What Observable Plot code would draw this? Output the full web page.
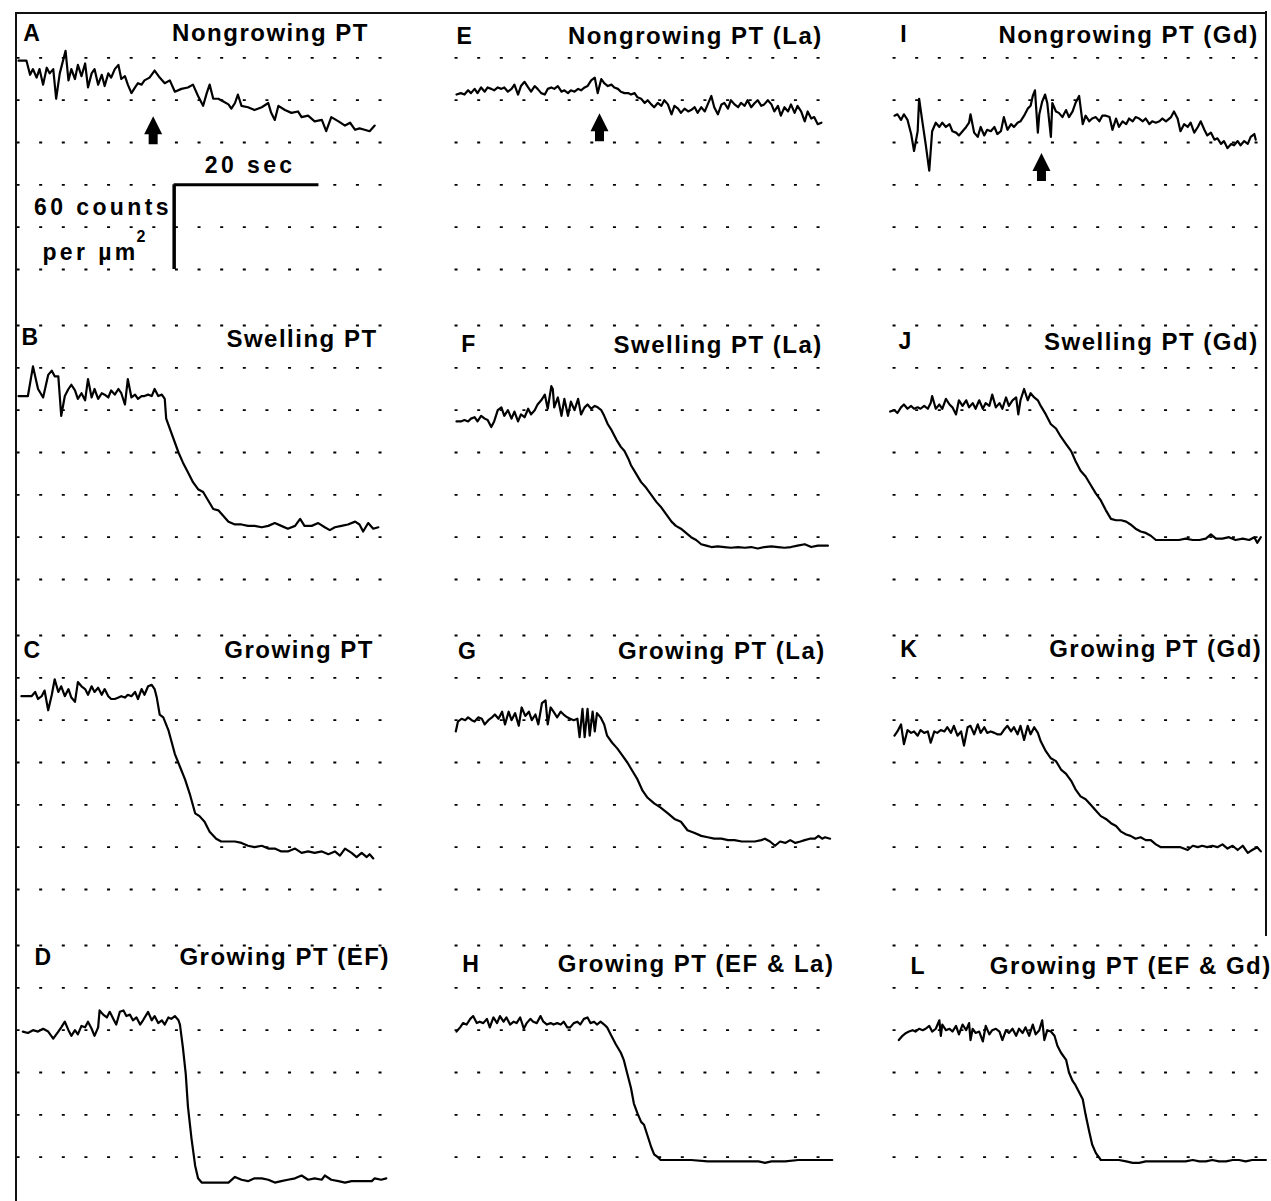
<!DOCTYPE html>
<html><head><meta charset="utf-8">
<script src="https://cdn.jsdelivr.net/npm/d3@7"></script>
<script src="https://cdn.jsdelivr.net/npm/@observablehq/plot@0.6"></script>
<style>
html,body{margin:0;padding:0;background:#fff;overflow:hidden;}
#fig{position:relative;width:1271px;height:1201px;background:#fff;}
#fig svg{position:absolute;left:0;top:0;}
.border{position:absolute;background:#111;}
</style></head>
<body><div id="fig"></div>
<script>
// ---- Traces: [time (s), counts per µm²] ----
const traceA = [[0,148],[1.1,148],[1.6,138],[2.0,142],[2.5,136],[2.9,142],[3.4,131],[3.9,143],[4.3,139],[4.8,142],[5.2,121],[5.7,139],[6.5,155],[6.9,134],[7.3,142],[7.8,135],[8.2,145],[8.7,137],[9.2,146],[9.6,129],[10.1,139],[10.5,142],[11.0,131],[11.5,138],[11.9,130],[12.4,139],[12.8,136],[13.3,142],[13.8,145],[14.2,135],[14.7,137],[15.1,131],[15.6,125],[16.1,129],[16.5,132],[17.0,131],[17.4,134],[18.1,136],[18.8,141],[19.5,136],[20.2,132],[20.9,134],[21.6,126],[22.5,128],[23.4,129],[24.1,131],[24.8,123],[25.5,116],[26.0,125],[26.4,131],[26.9,121],[27.6,121],[28.3,119],[29.0,117],[29.4,114],[29.9,118],[30.3,124],[30.8,116],[31.7,115],[32.6,113],[33.6,115],[34.5,118],[34.9,111],[35.4,106],[35.9,116],[36.8,113],[37.7,111],[38.6,112],[39.1,108],[40.0,109],[40.9,105],[41.9,106],[42.5,98],[43.2,108],[44.2,105],[45.1,102],[45.8,104],[46.5,99],[47.1,100],[47.8,99],[48.5,98],[49.2,102]];
const traceB = [[0,130],[1.3,130],[2.0,151],[2.7,135],[3.4,129],[4.1,145],[4.6,148],[5.0,144],[5.5,144],[5.9,116],[6.4,130],[6.9,135],[7.3,138],[7.8,134],[8.2,128],[8.7,132],[9.2,127],[9.6,142],[10.1,129],[10.5,135],[11.0,128],[11.5,132],[11.9,131],[12.4,129],[12.8,134],[13.3,131],[13.8,135],[14.2,132],[14.7,124],[15.1,142],[15.6,129],[16.1,131],[16.5,128],[17.0,130],[17.4,130],[17.9,131],[18.4,130],[18.8,135],[19.3,130],[19.8,131],[20.2,128],[20.4,114],[21.1,104],[22.1,90],[22.7,83],[23.4,76],[24.1,69],[24.8,64],[25.5,62],[26.2,56],[26.9,50],[27.6,49],[28.3,45],[29.0,41],[29.9,39],[30.8,39],[31.7,38],[32.6,38],[33.6,37],[34.5,38],[35.4,40],[36.3,38],[37.2,36],[38.2,38],[38.9,43],[39.5,38],[40.5,38],[41.4,40],[42.3,37],[43.0,35],[43.7,37],[44.6,38],[45.5,39],[46.5,41],[47.1,39],[47.6,34],[48.3,40],[49.0,36],[49.7,37]];
const traceC = [[0.4,137],[1.8,137],[2.3,140],[2.7,135],[3.2,137],[3.6,141],[4.1,127],[4.6,138],[5.0,149],[5.5,140],[5.9,144],[6.4,137],[6.9,142],[7.3,136],[7.8,133],[8.2,147],[8.7,144],[9.2,142],[9.6,138],[10.1,144],[10.5,140],[11.0,143],[11.5,138],[11.9,142],[12.4,137],[12.8,135],[13.3,135],[13.8,136],[14.2,137],[14.7,136],[15.1,138],[15.6,137],[16.1,140],[16.5,135],[17.0,142],[17.4,138],[17.9,144],[18.4,145],[18.8,142],[19.1,136],[19.5,124],[20.0,122],[20.7,113],[21.6,96],[22.3,87],[23.0,78],[23.7,67],[24.4,54],[25.0,52],[25.7,48],[26.4,41],[27.3,36],[28.0,34],[29.0,34],[29.9,34],[30.8,33],[31.7,31],[32.6,30],[33.6,31],[34.5,29],[35.4,29],[36.3,27],[37.2,27],[38.2,29],[39.1,26],[40.0,27],[40.9,26],[41.9,27],[42.8,25],[43.7,27],[44.4,24],[45.1,29],[46.0,26],[46.7,23],[47.4,26],[48.1,23],[48.5,25],[49.0,22]];
const traceD = [[0.6,119],[1.3,118],[2.0,120],[2.7,119],[3.4,121],[4.1,119],[4.8,114],[5.5,119],[5.9,122],[6.4,126],[6.9,120],[7.3,116],[7.8,120],[8.2,117],[8.7,123],[9.2,122],[9.6,126],[10.1,121],[10.5,116],[11.0,122],[11.2,134],[11.7,131],[12.2,129],[12.6,133],[13.1,128],[13.5,124],[14.0,133],[14.5,134],[14.9,130],[15.4,131],[15.8,127],[16.3,129],[16.8,124],[17.2,127],[17.9,133],[18.4,127],[18.8,130],[19.3,125],[19.8,127],[20.2,124],[20.7,129],[21.1,128],[21.6,130],[22.1,127],[22.3,124],[22.7,108],[23.1,89],[23.4,66],[23.9,43],[24.4,24],[24.8,15],[25.3,12],[26.2,12],[27.6,12],[29.0,12],[29.9,16],[30.8,14],[31.7,13],[32.6,15],[33.6,15],[34.5,14],[35.4,12],[36.3,13],[37.2,14],[38.2,15],[39.1,17],[40.0,14],[40.9,15],[41.9,14],[42.3,17],[43.2,14],[44.2,13],[45.1,12],[46.0,13],[46.9,13],[47.8,13],[48.8,13],[49.2,15],[50.1,14],[50.8,15]];
const traceE = [[0,124],[0.6,125],[1.1,124],[1.6,127],[2.0,125],[2.5,128],[2.9,125],[3.4,129],[3.9,126],[4.3,129],[4.8,128],[5.2,127],[5.7,129],[6.2,128],[6.6,129],[7.1,126],[7.6,128],[8.0,131],[8.5,124],[8.9,130],[9.4,133],[9.9,129],[10.3,126],[10.8,130],[11.2,128],[11.7,125],[12.2,124],[12.6,128],[13.1,129],[13.5,128],[14.0,130],[14.5,126],[14.9,127],[15.4,125],[15.8,127],[16.3,126],[16.8,128],[17.2,127],[17.7,129],[18.1,130],[18.6,134],[19.1,136],[19.5,125],[20.0,135],[20.4,132],[20.9,130],[21.4,131],[21.8,129],[22.3,128],[22.7,126],[23.2,125],[23.7,125],[24.1,124],[24.6,125],[25.0,122],[25.5,121],[26.0,118],[26.4,120],[26.9,117],[27.3,115],[27.8,118],[28.3,116],[28.7,120],[29.2,117],[29.7,110],[30.1,116],[30.6,114],[31.0,111],[31.5,114],[32.0,112],[32.4,113],[32.9,115],[33.3,111],[33.8,115],[34.3,112],[34.7,117],[35.2,123],[35.6,115],[36.1,110],[36.6,117],[37.0,118],[37.5,114],[37.9,120],[38.4,117],[38.9,115],[39.3,118],[39.8,116],[40.2,120],[40.7,115],[41.2,118],[41.6,120],[42.1,116],[42.5,117],[43.0,120],[43.5,117],[43.9,112],[44.4,116],[44.8,109],[45.3,115],[45.8,112],[46.2,117],[46.7,111],[47.1,116],[47.6,112],[48.1,105],[48.5,112],[49.0,107],[49.4,108],[49.9,103],[50.4,104]];
const traceF = [[0,112],[0.6,112],[1.1,113],[1.6,112],[2.0,114],[2.5,115],[2.9,112],[3.4,116],[3.9,114],[4.3,113],[4.8,108],[5.2,112],[5.7,120],[6.2,122],[6.6,116],[7.1,120],[7.6,114],[8.0,119],[8.5,112],[8.9,117],[9.4,115],[9.9,121],[10.3,117],[10.8,120],[11.2,124],[11.7,127],[12.2,131],[12.6,121],[13.1,137],[13.3,135],[13.5,122],[14.0,129],[14.5,116],[14.9,128],[15.4,116],[15.8,126],[16.3,120],[16.8,128],[17.2,117],[17.7,122],[18.1,124],[18.6,121],[19.1,123],[19.5,122],[20.0,120],[20.4,116],[20.9,110],[21.4,106],[22.1,99],[22.7,94],[23.2,91],[23.7,86],[24.1,81],[24.8,75],[25.5,69],[26.2,65],[26.9,60],[27.6,55],[28.3,51],[29.0,46],[29.7,41],[30.3,38],[31.0,36],[31.7,33],[32.4,30],[33.1,28],[33.8,25],[34.5,24],[35.2,23],[36.1,23.5],[37.0,23],[37.9,22.5],[38.9,23],[39.8,22.5],[40.7,23],[41.6,22],[42.5,23],[43.5,23.5],[44.4,23],[45.3,22.5],[46.2,23],[47.1,24],[48.1,25],[49.0,23],[49.9,24],[51.3,24]];
const traceG = [[-0.1,112],[0.2,119],[0.7,121],[1.2,120],[1.6,122],[2.1,120],[2.5,119],[3.0,122],[3.5,121],[3.9,117],[4.4,120],[4.9,122],[5.3,124],[5.8,121],[6.3,126],[6.7,117],[7.2,126],[7.6,120],[8.1,125],[8.6,116],[9.0,129],[9.5,123],[10.0,126],[10.4,120],[10.9,124],[11.3,117],[11.8,132],[12.3,134],[12.6,117],[13.0,129],[13.4,126],[13.9,122],[14.4,126],[14.8,124],[15.3,122],[15.7,121],[16.2,120],[16.7,121],[17.0,108],[17.4,128],[17.7,108],[18.1,128],[18.4,109],[18.8,126],[19.1,112],[19.4,125],[19.9,122],[20.4,117],[20.8,109],[21.5,104],[22.2,100],[22.9,95],[23.6,90],[24.3,84],[25.0,78],[25.7,70],[26.4,65],[27.3,61],[28.2,58],[29.2,54],[30.1,50],[31.0,48],[31.9,42],[32.9,40],[33.8,38],[34.7,37],[35.6,36],[36.6,36],[37.5,35],[38.4,35],[39.4,34],[40.3,34],[41.2,34],[42.1,35],[42.6,36],[43.3,34],[44.0,31],[44.7,34],[45.4,33],[46.1,35],[46.8,33],[47.5,34],[48.1,35],[48.8,36],[49.5,36],[50.0,38],[50.5,36],[50.9,37],[51.6,36]];
const traceH = [[0,119],[0.5,122],[0.9,125],[1.4,124],[1.9,128],[2.3,130],[2.8,125],[3.2,126],[3.7,125],[4.2,128],[4.6,122],[5.1,129],[5.6,125],[6.0,130],[6.5,126],[6.9,129],[7.4,124],[7.9,126],[8.3,125],[8.8,129],[9.3,121],[9.7,125],[10.2,128],[10.6,126],[11.1,125],[11.6,130],[12.0,126],[12.5,124],[13.0,125],[13.4,124],[13.9,125],[14.4,124],[14.8,126],[15.3,122],[15.7,122],[16.2,125],[16.7,126],[17.1,124],[17.6,128],[18.1,129],[18.5,125],[19.0,126],[19.4,124],[19.9,126],[20.4,124],[20.8,122],[21.3,117],[22.0,110],[22.7,104],[23.1,99],[23.6,89],[24.1,79],[24.5,68],[25.0,61],[25.5,55],[25.9,53],[26.4,45],[26.9,37],[27.3,32],[27.8,30],[28.2,28],[29.2,28],[30.6,28],[32.4,28],[34.7,27],[37.0,27],[39.4,27],[41.7,27],[42.6,26],[43.5,27],[45.4,27],[47.2,28],[49.1,28],[50.9,28],[51.9,28]];
const traceI = [[0,109],[0.4,110],[0.9,106],[1.3,110],[1.8,106],[2.3,96],[2.7,84],[3.2,98],[3.4,121],[3.9,103],[4.3,89],[4.8,70],[5.2,98],[5.7,104],[6.2,101],[6.6,104],[7.1,101],[7.6,103],[8.0,98],[8.5,97],[8.9,95],[9.4,98],[9.9,101],[10.3,104],[10.5,110],[11.0,97],[11.5,94],[11.9,101],[12.4,95],[12.8,99],[13.3,98],[13.8,101],[14.2,96],[14.7,98],[15.1,108],[15.6,99],[16.1,103],[16.5,101],[17.0,104],[17.4,105],[17.9,109],[18.4,114],[18.8,116],[19.1,123],[19.4,127],[19.8,97],[20.0,110],[20.4,119],[20.8,124],[21.1,118],[21.6,94],[21.8,118],[22.3,112],[22.7,111],[23.2,108],[23.7,113],[24.1,108],[24.6,112],[25.0,118],[25.5,123],[26.0,103],[26.4,109],[26.9,105],[27.3,107],[27.8,108],[28.3,105],[28.7,109],[29.2,109],[29.7,108],[30.1,99],[30.6,107],[31.0,101],[31.5,105],[32.0,103],[32.4,107],[32.9,105],[33.3,108],[33.8,107],[34.3,105],[34.7,107],[35.2,103],[35.6,105],[36.1,104],[36.6,105],[37.0,107],[37.5,105],[38.2,108],[38.6,112],[39.1,107],[39.5,98],[40.0,103],[40.5,101],[40.9,104],[41.4,97],[41.9,101],[42.3,105],[42.8,99],[43.2,95],[43.7,97],[44.2,92],[44.6,93],[45.1,89],[45.5,91],[46.0,86],[46.5,89],[46.9,88],[47.4,91],[47.8,88],[48.3,91],[48.8,89],[49.2,94],[49.7,96],[49.9,92]];
const traceJ = [[-0.6,119],[0,120],[0.4,118],[0.9,122],[1.3,124],[1.8,121],[2.3,123],[2.7,121],[3.2,122],[3.6,121],[4.1,123],[4.6,121],[5.0,125],[5.2,130],[5.7,121],[6.2,124],[6.6,121],[7.1,128],[7.6,124],[8.0,122],[8.5,117],[8.9,127],[9.4,123],[9.9,127],[10.3,122],[10.8,125],[11.2,121],[11.7,127],[12.2,121],[12.6,125],[13.1,123],[13.5,131],[14.0,122],[14.5,125],[14.9,121],[15.4,129],[15.8,123],[16.3,127],[16.8,129],[17.1,117],[17.4,127],[17.9,135],[18.4,127],[18.8,132],[19.3,129],[19.8,127],[20.2,123],[20.9,117],[21.6,110],[22.3,107],[23.0,101],[23.7,96],[24.4,91],[25.0,84],[25.7,77],[26.4,73],[27.1,67],[27.8,61],[28.5,56],[29.2,49],[29.9,43],[30.6,42],[31.3,42],[32.0,41],[32.6,39],[33.3,36],[34.0,34],[34.7,33],[35.4,31],[36.1,28],[36.8,28],[37.5,28],[38.4,28],[39.3,28],[40.2,29],[41.2,28],[42.1,28],[43.0,29],[43.7,32],[44.4,29],[45.3,29],[46.2,30],[47.1,28],[48.1,29],[49.0,28],[49.7,30],[50.1,26],[50.6,30]];
const traceK = [[0,109],[0.4,112],[0.9,117],[1.3,103],[1.8,113],[2.3,111],[2.7,112],[3.2,109],[3.6,113],[4.1,111],[4.6,112],[5.0,104],[5.5,112],[5.9,111],[6.4,113],[6.9,112],[7.3,115],[7.8,111],[8.2,116],[8.7,109],[9.2,112],[9.6,102],[10.1,115],[10.5,116],[11.0,110],[11.5,117],[11.9,111],[12.4,115],[12.8,111],[13.3,112],[13.8,111],[14.2,110],[14.7,110],[15.1,113],[15.6,116],[16.1,112],[16.5,115],[17.0,110],[17.4,116],[17.9,106],[18.4,116],[18.8,110],[19.3,115],[19.8,111],[20.2,105],[20.9,98],[21.6,93],[22.3,91],[23.0,85],[23.7,82],[24.4,77],[25.0,71],[25.7,66],[26.4,64],[27.1,60],[27.8,56],[28.5,52],[29.2,50],[29.9,47],[30.6,45],[31.3,41],[32.0,39],[32.6,38],[33.3,36],[34.0,37],[34.7,35],[35.4,35],[36.1,32],[36.8,30],[37.7,30],[38.6,30],[39.5,30],[40.5,28],[41.2,31],[41.9,30],[42.5,31],[43.2,30],[43.9,31],[44.6,30],[45.3,32],[46.0,29],[46.7,31],[47.4,28],[48.1,31],[48.8,26],[49.4,28],[50.1,30],[50.6,27]];
const traceL = [[0.6,113],[1.1,116],[1.6,118],[2.0,119],[2.5,120],[2.9,119],[3.4,121],[3.9,120],[4.3,121],[4.8,123],[5.2,119],[5.7,121],[6.2,127],[6.4,116],[6.6,124],[7.1,120],[7.6,121],[8.0,119],[8.5,123],[8.9,117],[9.4,124],[9.9,120],[10.3,125],[10.5,113],[10.8,121],[11.2,118],[11.7,119],[12.2,112],[12.6,123],[13.1,117],[13.5,120],[14.0,121],[14.5,119],[14.9,113],[15.4,120],[15.8,118],[16.3,121],[16.8,116],[17.2,121],[17.7,118],[18.1,122],[18.6,116],[19.1,124],[19.5,117],[20.0,120],[20.4,127],[20.7,113],[21.1,120],[21.6,119],[22.1,116],[22.5,109],[23.0,104],[23.7,99],[24.1,90],[24.6,84],[25.0,81],[25.5,76],[26.0,71],[26.4,60],[26.9,48],[27.3,39],[27.8,33],[28.5,28],[29.2,28],[30.1,28],[31.0,28],[32.0,27],[32.9,26],[33.8,26],[34.7,27],[35.6,27],[36.6,27],[37.5,27],[38.4,27],[39.3,27],[40.2,27],[41.2,28],[42.1,27],[43.0,27],[43.9,28],[44.8,27],[45.8,27],[46.7,28],[47.6,28],[48.5,27],[49.4,28],[50.4,28],[51.3,28]];

// ---- Panels ----
const panelIds    = ["A","B","C","D","E","F","G","H","I","J","K","L"];
const panelTitles = ["Nongrowing PT","Swelling PT","Growing PT","Growing PT (EF)",
                     "Nongrowing PT (La)","Swelling PT (La)","Growing PT (La)","Growing PT (EF & La)",
                     "Nongrowing PT (Gd)","Swelling PT (Gd)","Growing PT (Gd)","Growing PT (EF & Gd)"];
const panelCols   = ["1","1","1","1","2","2","2","2","3","3","3","3"];
const panelRows   = ["1","2","3","4","1","2","3","4","1","2","3","4"];
// label anchors, in panel units (s, counts)
const letterTime  = [0.65,0.4,0.7,2.2, 0,0.65,0.2,0.8, 0.8,0.55,0.8,2.2];
const letterLevel = [162,166,164,166, 160,161.5,163,161, 161,163,165,160];
const titleTime   = [48.4,49.6,49.1,51.3, 50.6,50.6,51.0,52.2, 50.3,50.3,50.8,52.1];
const titleLevel  = [162,165,164,166, 159.5,160.5,163,161, 160.5,162.5,164.5,160];

// dotted chart-recorder rows (counts), per row of panels
const gridLevels = {"1":[0,30,60,90,120,150], "2":[0,30,60,90,120,150,180], "3":[0,30,60,90,120,150,180], "4":[30,60,90,120,150,180]};

// stimulus arrows (panels A, E, I)
const arrowPanels = ["A","E","I"];
const arrowTimes  = [18.6, 19.75, 20.3];
const arrowLevels = [98.7, 100.8, 72.7];

// calibration bar in panel A: 20 sec, 60 counts per µm²
const barTimes  = [21.5, 41.5];
const barLevels = [0, 60];
const scaleLabels = ["20 sec", "60 counts", "per µm"];

const traces = {A:traceA,B:traceB,C:traceC,D:traceD,E:traceE,F:traceF,G:traceG,H:traceH,I:traceI,J:traceJ,K:traceK,L:traceL};

const panels = panelIds.map((id, i) => ({id, title: panelTitles[i], col: panelCols[i], row: panelRows[i],
  lt: letterTime[i], lv: letterLevel[i], tt: titleTime[i], tv: titleLevel[i]}));
const traceRows = panels.flatMap(p => traces[p.id].map(([t, v]) => ({panel: p.id, col: p.col, row: p.row, t, v})));
const gridRows = [];
for (const c of ["1","2","3"]) for (const r of ["1","2","3","4"]) for (const lv of gridLevels[r]) gridRows.push({col: c, row: r, level: lv});
const arrows = arrowPanels.map((id, i) => {const p = panels.find(d => d.id === id); return {col: p.col, row: p.row, t: arrowTimes[i], v: arrowLevels[i]};});
const pA = panels[0];

const fatArrow = {
  draw(context, size) {
    const k = Math.sqrt(size / Math.PI) / 14;
    context.moveTo(0, -14 * k);
    context.lineTo(9 * k, 4 * k);
    context.lineTo(4.5 * k, 4 * k);
    context.lineTo(4.5 * k, 14 * k);
    context.lineTo(-4.5 * k, 14 * k);
    context.lineTo(-4.5 * k, 4 * k);
    context.lineTo(-9 * k, 4 * k);
    context.closePath();
  }
};

const FONT = "'Liberation Sans', Arial, Helvetica, sans-serif";
const scaleText = (label, x, y, anchor) => Plot.text([pA], {fx: "col", fy: "row", x, y, text: () => label,
  textAnchor: anchor, lineAnchor: "bottom", fontSize: 23, fontWeight: "bold", fontFamily: FONT, fill: "black"});

const chart = Plot.plot({
  width: 1271, height: 1201,
  marginTop: 13, marginBottom: 0, marginLeft: 17, marginRight: 15,
  facet: {marginTop: 0, marginRight: 0, marginBottom: 0, marginLeft: 0},
  x: {domain: [0, 50], axis: null},
  y: {domain: [0, 180], axis: null},
  fx: {domain: ["1","2","3"], paddingInner: 0.1745, paddingOuter: 0, axis: null},
  fy: {domain: ["1","2","3","4"], paddingInner: 0.18, paddingOuter: 0, axis: null},
  style: {background: "white", color: "black"},
  marks: [
    Plot.ruleY(gridRows, {fx: "col", fy: "row", y: "level", x1: -0.2, x2: 50.4,
      stroke: "black", strokeWidth: 1.8, strokeDasharray: "3 19.625"}),
    Plot.line(traceRows, {fx: "col", fy: "row", x: "t", y: "v", z: "panel",
      stroke: "black", strokeWidth: 2.2, strokeLinejoin: "round", strokeLinecap: "round"}),
    Plot.dot(arrows, {fx: "col", fy: "row", x: "t", y: "v", r: 14, symbol: fatArrow, fill: "black", stroke: "none"}),
    // calibration bar
    Plot.ruleY([pA], {fx: "col", fy: "row", y: barLevels[1], x1: barTimes[0], x2: barTimes[1], stroke: "black", strokeWidth: 3}),
    Plot.ruleX([pA], {fx: "col", fy: "row", x: barTimes[0], y1: barLevels[0], y2: barLevels[1], stroke: "black", strokeWidth: 3.5}),
    scaleText(scaleLabels[0], 32.0, 68.5, "middle"),
    scaleText(scaleLabels[1], 21.2, 38.3, "end"),
    scaleText(scaleLabels[2], 16.6, 6.7, "end"),
    Plot.text([pA], {fx: "col", fy: "row", x: 16.3, y: 19.8, text: () => "2", textAnchor: "start", lineAnchor: "bottom",
      fontSize: 16, fontWeight: "bold", fontFamily: FONT, fill: "black"}),
    // panel letters and titles
    Plot.text(panels, {fx: "col", fy: "row", x: "lt", y: "lv", text: "id", textAnchor: "start", lineAnchor: "bottom",
      fontSize: 23, fontWeight: "bold", fontFamily: FONT, fill: "black"}),
    Plot.text(panels, {fx: "col", fy: "row", x: "tt", y: "tv", text: "title", textAnchor: "end", lineAnchor: "bottom",
      fontSize: 24, fontWeight: "bold", fontFamily: FONT, fill: "black"})
  ]
});

// typewriter-like letter spacing of the original lettering
const spacing = new Map([...panelTitles.map(t => [t, "1.5px"]), ...scaleLabels.map(t => [t, "3.4px"])]);
d3.select(chart).selectAll("text").each(function () {
  const s = spacing.get(this.textContent);
  if (s) this.style.letterSpacing = s;
});

const fig = document.getElementById("fig");
fig.appendChild(chart);
for (const [l, t, w, h] of [[15, 12, 2, 1189], [15, 12, 1252, 2], [1265, 11, 2, 925]]) {
  const b = document.createElement("div");
  b.className = "border";
  Object.assign(b.style, {left: l + "px", top: t + "px", width: w + "px", height: h + "px"});
  fig.appendChild(b);
}
</script></body></html>
